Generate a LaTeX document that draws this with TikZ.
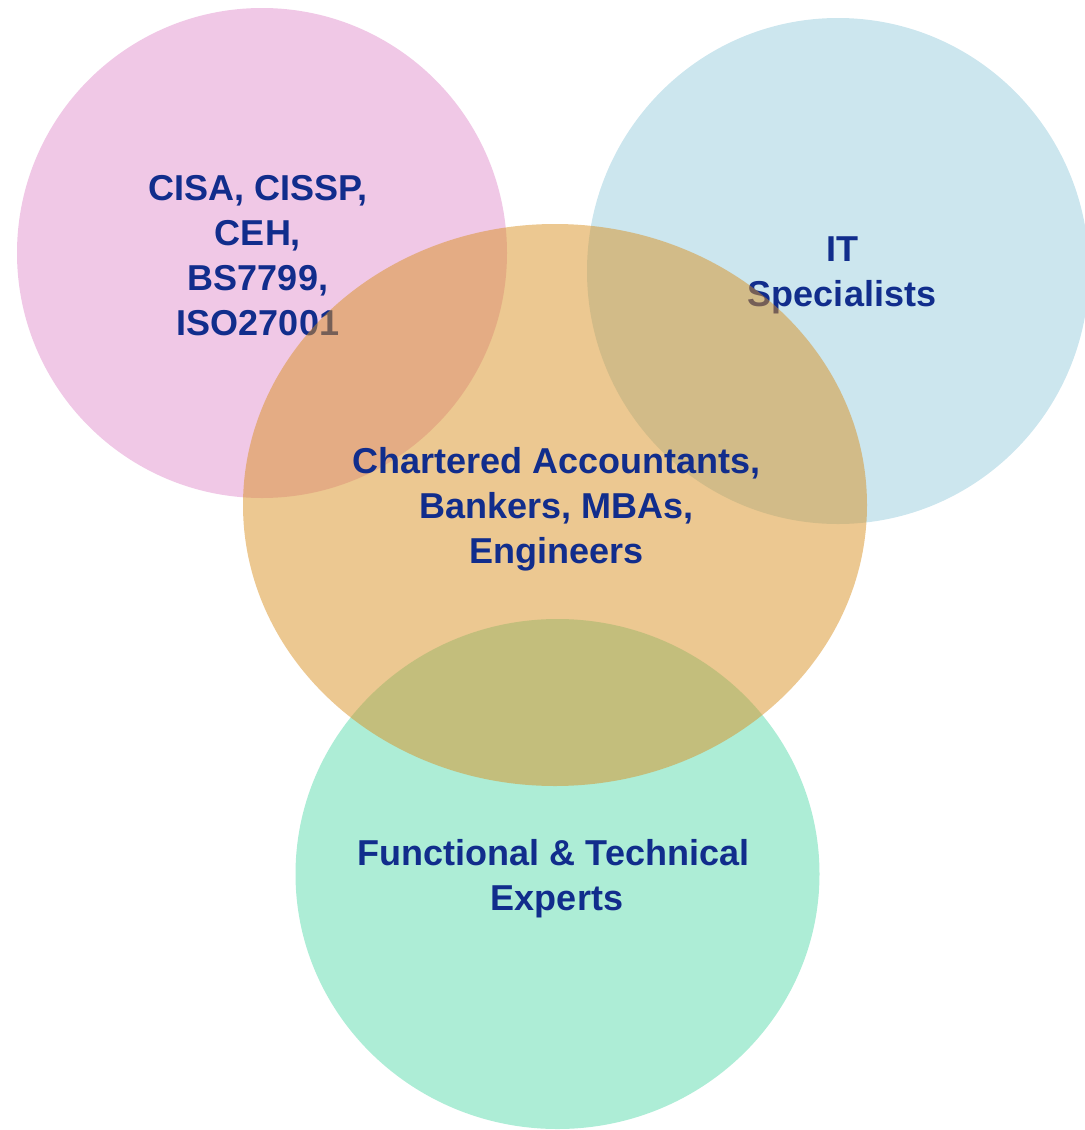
\documentclass[tikz,border=0pt]{standalone}
\usepackage{fontspec}
\setmainfont{Liberation Sans}
\begin{document}
\begin{tikzpicture}[x=0.5pt,y=-0.5pt,
  blob/.style={draw=none,fill opacity=0.5},
  label/.style={text=labelblue,font=\bfseries\fontsize{18}{22.5}\selectfont,
    align=center,inner sep=0pt,anchor=center}]
\definecolor{labelblue}{RGB}{17,45,140}
\definecolor{pinkfill}{RGB}{225,145,205}
\definecolor{bluefill}{RGB}{153,205,221}
\definecolor{orangefill}{RGB}{217,145,35}
\definecolor{greenfill}{RGB}{91,219,173}
\useasboundingbox (0,0) rectangle (1085,1130);
\clip (0,0) rectangle (1085,1130);

% certification circle
\fill[blob,pinkfill] (262,253) ellipse [x radius=245,y radius=245];
\node[label] (cert) at (258,255.5) {CISA, CISSP,\\CEH,\\BS7799,\\ISO27001};

% IT circle
\fill[blob,bluefill] (838,271) ellipse [x radius=251,y radius=253];
\node[label] (it) at (842,275.5) {IT\\Specialists};

% experts circle
\fill[blob,greenfill] (557.5,874) ellipse [x radius=262,y radius=255];
\node[label] (expert) at (557,879) {Functional \& Technical\kern3.5pt\\Experts};

% central finance ellipse, laid over the others
\fill[blob,orangefill] (555,505) ellipse [x radius=312,y radius=281];
\node[label] (fin) at (556.5,509) {Chartered Accountants,\\Bankers, MBAs,\\Engineers};
\end{tikzpicture}
\end{document}
